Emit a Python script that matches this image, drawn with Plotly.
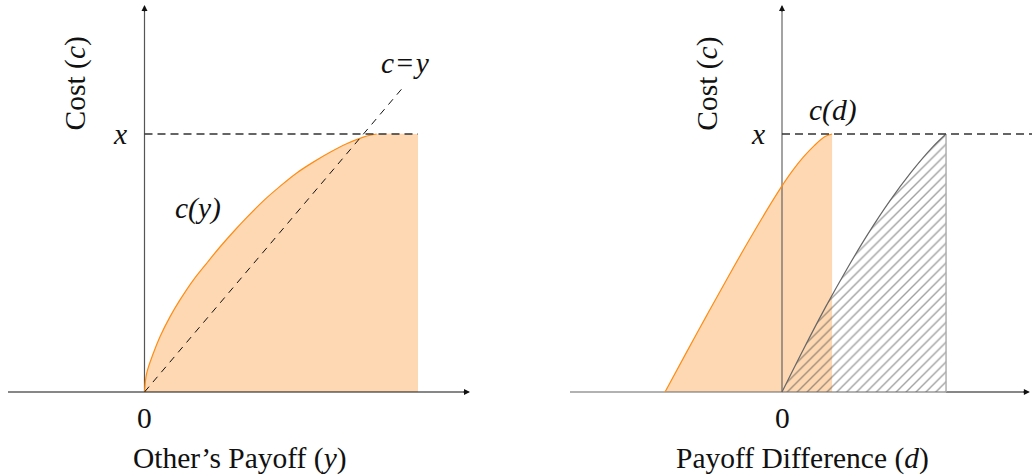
import plotly.graph_objects as go

# ---------------- data (math units: level "x" = 1) ----------------
# Left panel: c(y) curve
cy_y = [0.0, 0.010, 0.041, 0.072, 0.119, 0.165, 0.227, 0.289, 0.351, 0.421,
        0.475, 0.553, 0.630, 0.708, 0.785, 0.863, 0.940, 1.018, 1.080]
cy_c = [0.0, 0.072, 0.150, 0.214, 0.292, 0.357, 0.434, 0.499, 0.562, 0.628,
        0.676, 0.741, 0.797, 0.849, 0.891, 0.929, 0.962, 0.988, 1.0]
plateau_end = 1.272           # orange region continues flat at c = x up to here
x_level = 1.0                 # the level "x"
diag_y = [0.0, 1.212]         # dashed c = y line
diag_c = [0.0, 1.19]

# Right panel: c(d) curve (orange) and the hatched curve
cd_d = [-0.544, -0.45, -0.35, -0.25, -0.15, -0.05, 0.0, 0.05, 0.10, 0.15, 0.20, 0.233]
cd_c = [0.0, 0.145, 0.297, 0.447, 0.593, 0.733, 0.799, 0.859, 0.911, 0.955, 0.990, 1.0]
hd_d = [0.0, 0.1, 0.2, 0.3, 0.4, 0.5, 0.6, 0.7, 0.763]
hd_c = [0.0, 0.166, 0.325, 0.474, 0.613, 0.739, 0.851, 0.949, 1.0]

tick_labels = ["0", "<i>x</i>"]

# ---------------- styling / layout constants ----------------
ORANGE_FILL = "rgb(253,216,179)"
ORANGE_LINE = "rgb(255,140,20)"
DASH = "#333333"
FONT = "Liberation Serif"
FS = 29.5

HX, VY = 215.0, 258.0
L_O, R_O, Y_O = 144.5, 782.0, 392.0
L_XR = [-L_O / HX, (516 - L_O) / HX]
R_XR = [-(R_O - 516) / HX, (1032 - R_O) / HX]
YR = [-(476 - Y_O) / VY, Y_O / VY]

L_AX = (-0.635, 1.514)
R_AX = (-0.986, 1.153)
Y_TOP = 1.50
SM = 1.0

fig = go.Figure()

# ---- left panel ----
fig.add_trace(go.Scatter(x=cy_y + [plateau_end], y=cy_c + [x_level], mode="lines",
                         line=dict(width=0, shape="spline", smoothing=SM),
                         fill="tozeroy", fillcolor=ORANGE_FILL, hoverinfo="skip",
                         xaxis="x", yaxis="y"))
fig.add_trace(go.Scatter(x=[L_AX[0], L_AX[1] - 0.02], y=[0, 0], mode="lines",
                         line=dict(color="#111111", width=1.2), xaxis="x", yaxis="y"))
fig.add_trace(go.Scatter(x=[0, 0], y=[0, Y_TOP - 0.02], mode="lines",
                         line=dict(color="#555555", width=1.2), xaxis="x", yaxis="y"))
fig.add_trace(go.Scatter(x=cy_y, y=cy_c, mode="lines",
                         line=dict(color=ORANGE_LINE, width=1.2, shape="spline", smoothing=SM),
                         xaxis="x", yaxis="y"))
fig.add_trace(go.Scatter(x=[0, plateau_end], y=[x_level, x_level], mode="lines",
                         line=dict(color=DASH, width=1.3, dash="8px,5px"), xaxis="x", yaxis="y"))
fig.add_trace(go.Scatter(x=diag_y, y=diag_c, mode="lines",
                         line=dict(color="#111111", width=1, dash="7px,6px"), xaxis="x", yaxis="y"))

# ---- right panel ----
fig.add_trace(go.Scatter(x=cd_d, y=cd_c, mode="lines",
                         line=dict(width=0, shape="spline", smoothing=SM),
                         fill="tozeroy", fillcolor=ORANGE_FILL, hoverinfo="skip",
                         xaxis="x2", yaxis="y2"))
fig.add_trace(go.Scatter(x=hd_d, y=hd_c, mode="lines",
                         line=dict(width=0, shape="spline", smoothing=SM),
                         fill="tozeroy", fillcolor="rgba(0,0,0,0)",
                         fillpattern=dict(shape="/", fgcolor="#444444", bgcolor="rgba(0,0,0,0)",
                                          size=7, solidity=0.2),
                         hoverinfo="skip", xaxis="x2", yaxis="y2"))
fig.add_trace(go.Scatter(x=[R_AX[0], hd_d[-1]], y=[0, 0], mode="lines",
                         line=dict(color="#666666", width=1.2), xaxis="x2", yaxis="y2"))
fig.add_trace(go.Scatter(x=[hd_d[-1], R_AX[1] - 0.02], y=[0, 0], mode="lines",
                         line=dict(color="#111111", width=1.2), xaxis="x2", yaxis="y2"))
fig.add_trace(go.Scatter(x=[0, 0], y=[0, Y_TOP - 0.02], mode="lines",
                         line=dict(color="#666666", width=1.2), xaxis="x2", yaxis="y2"))
fig.add_trace(go.Scatter(x=cd_d, y=cd_c, mode="lines",
                         line=dict(color=ORANGE_LINE, width=1.2, shape="spline", smoothing=SM),
                         xaxis="x2", yaxis="y2"))
fig.add_trace(go.Scatter(x=hd_d, y=hd_c, mode="lines",
                         line=dict(color="#666666", width=1.2, shape="spline", smoothing=SM),
                         xaxis="x2", yaxis="y2"))
fig.add_trace(go.Scatter(x=[hd_d[-1], hd_d[-1]], y=[0, hd_c[-1]], mode="lines",
                         line=dict(color="#aaaaaa", width=1.4), xaxis="x2", yaxis="y2"))
fig.add_trace(go.Scatter(x=[0, R_XR[1]], y=[x_level, x_level], mode="lines",
                         line=dict(color=DASH, width=1.4, dash="8px,5px"), xaxis="x2", yaxis="y2"))

# ---- arrowheads ----
ann = []
def arrow(xref, yref, x, y, ax, ay, color):
    ann.append(dict(xref=xref, yref=yref, x=x, y=y, ax=ax, ay=ay, text="", showarrow=True,
                    arrowhead=2, arrowsize=1, arrowwidth=1.2, arrowcolor=color))

arrow("x", "y", L_AX[1], 0, -8, 0, "#111111")
arrow("x", "y", 0, Y_TOP, 0, 8, "#111111")
arrow("x2", "y2", R_AX[1], 0, -8, 0, "#111111")
arrow("x2", "y2", 0, Y_TOP, 0, 8, "#111111")

def label(xref, yref, x, y, text, angle=0):
    ann.append(dict(xref=xref, yref=yref, x=x, y=y, text=text, showarrow=False,
                    textangle=angle, font=dict(family=FONT, size=FS, color="#111111"),
                    xanchor="center", yanchor="middle"))

# left labels (positions in axis units)
label("x", "y", 0, -0.10, tick_labels[0])
label("x", "y", -0.114, x_level, tick_labels[1])
label("x", "y", 0.445, -0.257, "Other’s Payoff (<i>y</i>)")
label("x", "y", 0.25, 0.71, "<i>c(y)</i>")
label("x", "y", 1.212, 1.275, "<i>c</i>\u200a=\u200a<i>y</i>")
label("x", "y", -0.32, 1.195, "Cost (<i>c</i>)", angle=-90)
# right labels
label("x2", "y2", 0, -0.10, tick_labels[0])
label("x2", "y2", -0.112, x_level, tick_labels[1])
label("x2", "y2", 0.093, -0.257, "Payoff Difference (<i>d</i>)")
label("x2", "y2", 0.237, 1.09, "<i>c(d)</i>")
label("x2", "y2", -0.344, 1.195, "Cost (<i>c</i>)", angle=-90)

axis_common = dict(visible=False, fixedrange=True)
fig.update_layout(
    width=1032, height=476,
    margin=dict(l=0, r=0, t=0, b=0),
    paper_bgcolor="white", plot_bgcolor="white",
    showlegend=False,
    xaxis=dict(domain=[0, 0.5], range=L_XR, **axis_common),
    yaxis=dict(domain=[0, 1], range=YR, **axis_common),
    xaxis2=dict(domain=[0.5, 1], range=R_XR, **axis_common),
    yaxis2=dict(domain=[0, 1], range=YR, anchor="x2", **axis_common),
    annotations=ann,
)

fig.write_html("out.html",
               config={"displayModeBar": False, "staticPlot": True},
               post_script="document.body.style.margin='0';document.body.style.padding='0';"
                           "document.body.style.overflow='hidden';")
